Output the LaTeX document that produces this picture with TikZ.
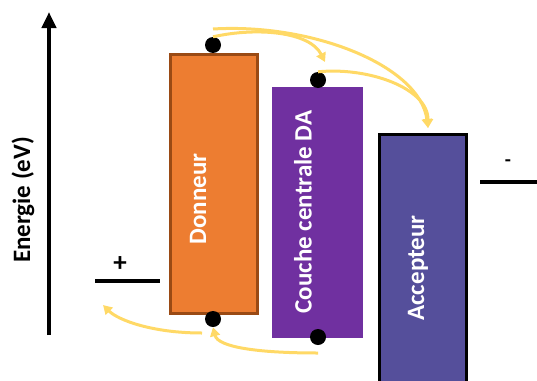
\documentclass[tikz,border=0pt]{standalone}
\usepackage{fontspec}
\setmainfont{Carlito}
\usetikzlibrary{arrows.meta,positioning}
\definecolor{orangeD}{HTML}{ED7D31}
\definecolor{brunD}{HTML}{9A4A14}
\definecolor{violetDA}{HTML}{7030A0}
\definecolor{bleuA}{HTML}{554F9B}
\definecolor{jaune}{HTML}{FFD966}
\tikzset{
  couche/.style={rectangle, inner sep=0pt, outer sep=0pt, anchor=north west},
  lbl/.style={rotate=90, text=white, font=\fontsize{25}{30}\selectfont\bfseries},
  porteur/.style={circle, fill=black, inner sep=0pt, minimum size=16pt},
  transfert/.style={jaune, line width=3pt, -{Triangle[width=10pt,length=9pt]}},
  niveau/.style={line width=4pt}
}
\begin{document}
\begin{tikzpicture}[x=1pt,y=-1pt]
    \useasboundingbox (0,0) rectangle (537,380);
    \clip (0,0) rectangle (537,380);
    % Energy axis
    \draw[line width=4pt, -{Triangle[width=14pt,length=16pt]}] (49,335) -- (49,12);
    \node[rotate=90, font=\fontsize{25}{30}\selectfont\bfseries] (energie) at (23,200) {Energie (eV)};

    % Layers
    \node[couche, fill=orangeD, draw=brunD, line width=3pt, minimum width=87pt, minimum height=259pt] (donneur) at (170.5,54.5) {};
    \node[lbl] (ldonneur) at (198,199) {Donneur};

    \node[couche, fill=violetDA, minimum width=91pt, minimum height=251pt] (da) at (272,87) {};
    \node[lbl] (lda) at (303,212) {Couche centrale DA};

    \node[couche, fill=bleuA, draw=black, line width=3pt, minimum width=87pt, minimum height=280pt] (accepteur) at (379.5,134.5) {};
    \node[lbl] (laccepteur) at (418,268) {Accepteur};

    % Levels of the electrodes
    \draw[niveau] (95,281) -- (160,281);
    \node[font=\fontsize{27}{30}\selectfont\bfseries] (plus) at (120,264) {+};
    \draw[niveau] (480,182) -- (540,182);
    \node[font=\fontsize{20}{24}\selectfont\bfseries] (moins) at (508,163) {-};

    % Charges
    \node[porteur] (dhaut) at (213,45) {};
    \node[porteur] (dahaut) at (318,80) {};
    \node[porteur] (dbas) at (213,319) {};
    \node[porteur] (dabas) at (318,337) {};

    % Electron transfer
    \coordinate (ehaut) at (213,29);
    \coordinate (edahaut) at (325,62);
    \coordinate (eacc) at (428,128);
    \draw[transfert] (dhaut.north) .. controls +(45,-10) and +(-15,-30) .. (edahaut);
    \draw[transfert] (ehaut) .. controls +(100,-6) and +(-8,-62) .. (eacc);
    \draw[transfert] (dahaut.north) .. controls +(50,-5) and +(0,-40) .. (eacc);

    % Hole transfer
    \coordinate (tdbas) at (202,333);
    \coordinate (tplus) at (103,305);
    \coordinate (tdabas) at (318,353);
    \draw[transfert] (tdbas) .. controls +(-50,0) and +(15,15) .. (tplus);
    \draw[transfert] (tdabas) .. controls +(-60,0) and +(5,20) .. (dbas.south);
\end{tikzpicture}
\end{document}
